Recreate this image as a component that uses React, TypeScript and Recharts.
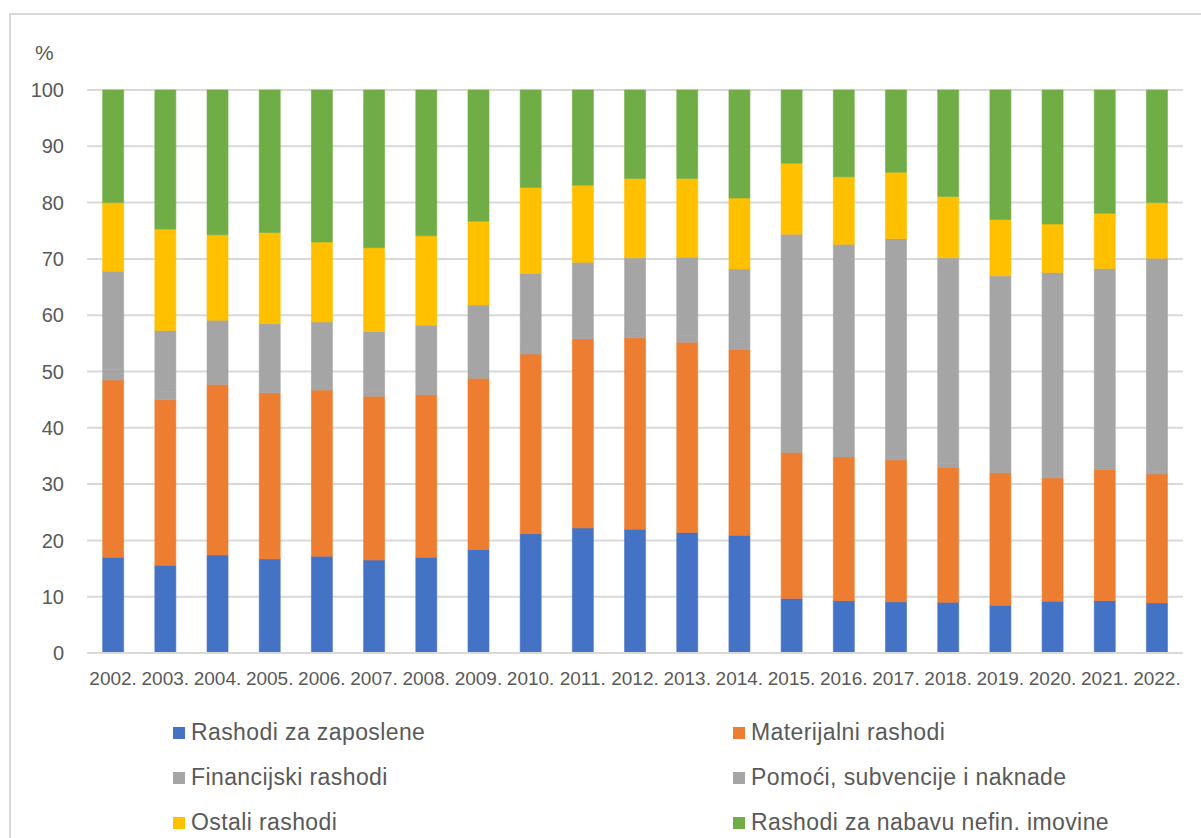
import React from "react";
import { Bar, BarChart, CartesianGrid, Legend, XAxis, YAxis } from "recharts";

const years = [
  "2002.", "2003.", "2004.", "2005.", "2006.", "2007.", "2008.", "2009.", "2010.", "2011.", "2012.",
  "2013.", "2014.", "2015.", "2016.", "2017.", "2018.", "2019.", "2020.", "2021.", "2022.",
];

// udjeli u ukupnim rashodima (%)
const zaposleni = [17.0, 15.6, 17.4, 16.7, 17.2, 16.5, 17.0, 18.4, 21.2, 22.2, 22.0, 21.4, 20.9, 9.7, 9.3, 9.1, 9.0, 8.5, 9.2, 9.3, 8.9];
const materijalni = [31.5, 29.4, 30.3, 29.5, 29.5, 29.1, 28.9, 30.4, 31.9, 33.6, 34.0, 33.8, 33.0, 25.9, 25.5, 25.2, 24.0, 23.5, 21.9, 23.3, 22.9];
const financijski = [1.8, 1.5, 1.3, 1.2, 1.1, 1.0, 1.0, 0.9, 0.9, 1.0, 1.1, 1.2, 1.3, 0.8, 0.7, 0.6, 0.6, 0.5, 0.5, 0.4, 0.4];
const pomoci = [17.5, 10.8, 10.1, 11.1, 11.0, 10.5, 11.3, 12.1, 13.4, 12.6, 13.1, 13.9, 13.0, 38.0, 37.1, 38.7, 36.6, 34.5, 36.0, 35.3, 37.9];
const ostali = [12.2, 18.0, 15.2, 16.2, 14.2, 14.9, 15.9, 14.9, 15.3, 13.7, 14.1, 14.0, 12.6, 12.6, 12.0, 11.8, 10.9, 10.0, 8.6, 9.8, 9.9];
const nefin = [20.0, 24.7, 25.7, 25.3, 27.0, 28.0, 25.9, 23.3, 17.3, 16.9, 15.7, 15.7, 19.2, 13.0, 15.4, 14.6, 18.9, 23.0, 23.8, 21.9, 20.0];

const yTicks = [0, 10, 20, 30, 40, 50, 60, 70, 80, 90, 100];

const series = [
  { key: "zaposleni", name: "Rashodi za zaposlene", color: "#4472C4", values: zaposleni },
  { key: "materijalni", name: "Materijalni rashodi", color: "#ED7D31", values: materijalni },
  { key: "financijski", name: "Financijski rashodi", color: "#A5A5A5", values: financijski },
  { key: "pomoci", name: "Pomoći, subvencije i naknade", color: "#A5A5A5", values: pomoci },
  { key: "ostali", name: "Ostali rashodi", color: "#FFC000", values: ostali },
  { key: "nefin", name: "Rashodi za nabavu nefin. imovine", color: "#70AD47", values: nefin },
];

const data = years.map((year, i) => {
  const row: Record<string, string | number> = { year };
  series.forEach((s) => {
    row[s.key] = s.values[i];
  });
  return row;
});

const font = "'Liberation Sans', Arial, sans-serif";
const textColor = "#595959";

function renderLegend(props: any) {
  const names = series.map((s) => s.name);
  // recharts sorts the payload, put it back in series order
  const payload = [...(props.payload || [])].sort(
    (a: any, b: any) => names.indexOf(a.value) - names.indexOf(b.value)
  );
  return (
    <div
      style={{
        display: "grid",
        gridTemplateColumns: "560px 460px",
        paddingLeft: 173,
        fontFamily: font,
        fontSize: 23,
        letterSpacing: 0.4,
        color: textColor,
      }}
    >
      {payload.map((entry: any) => (
        <div
          key={entry.value}
          style={{ display: "flex", alignItems: "center", height: 45, whiteSpace: "nowrap" }}
        >
          <span
            style={{ width: 12, height: 12, background: entry.color, marginRight: 6, flex: "none" }}
          />
          <span>{entry.value}</span>
        </div>
      ))}
    </div>
  );
}

export default function App() {
  return (
    <div
      style={{
        position: "fixed",
        left: 0,
        top: 0,
        width: 1201,
        height: 838,
        overflow: "hidden",
        background: "#fff",
      }}
    >
      <div
        style={{
          position: "absolute",
          left: 9,
          top: 13,
          width: 1260,
          height: 900,
          border: "2px solid #D9D9D9",
        }}
      />
      <div
        style={{
          position: "absolute",
          left: 35,
          top: 41,
          fontFamily: font,
          fontSize: 21,
          color: textColor,
        }}
      >
        %
      </div>
      <div style={{ position: "absolute", left: 0, top: 0 }}>
        <BarChart
          width={1201}
          height={838}
          data={data}
          margin={{ top: 90, right: 18, left: 27, bottom: 145 }}
          barCategoryGap="30%"
        >
          <CartesianGrid stroke="#D9D9D9" strokeWidth={2} vertical={false} />
          <XAxis
            dataKey="year"
            interval={0}
            height={40}
            tickLine={false}
            axisLine={{ stroke: "#D9D9D9", strokeWidth: 2 }}
            tickMargin={13}
            tick={{ fill: textColor, fontSize: 19, fontFamily: font }}
          />
          <YAxis
            width={60}
            domain={[0, 100]}
            ticks={yTicks}
            interval={0}
            tickLine={false}
            axisLine={false}
            tickMargin={17}
            tick={{ fill: textColor, fontSize: 20, fontFamily: font }}
          />
          <Legend
            layout="horizontal"
            verticalAlign="middle"
            align="center"
            wrapperStyle={{ top: 710, left: 0, width: 1201 }}
            content={renderLegend}
          />
          {series.map((s) => (
            <Bar
              key={s.key}
              dataKey={s.key}
              name={s.name}
              stackId="a"
              fill={s.color}
              stroke={s.color}
              strokeWidth={0.6}
              isAnimationActive={false}
            />
          ))}
        </BarChart>
      </div>
    </div>
  );
}
